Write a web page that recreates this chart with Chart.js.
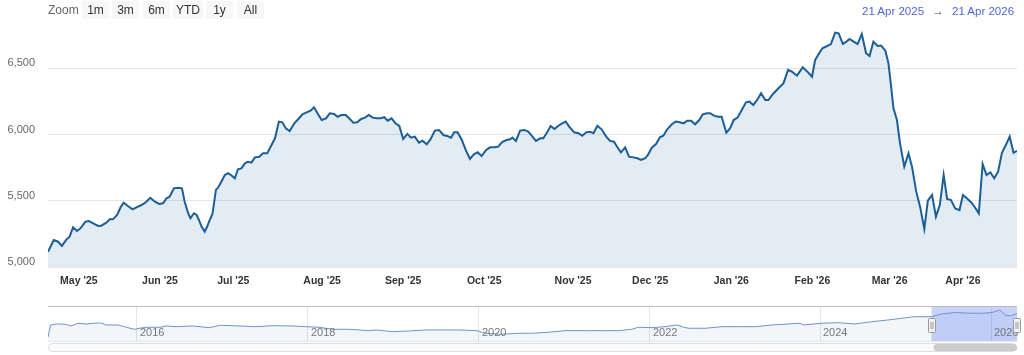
<!DOCTYPE html>
<html>
<head>
<meta charset="utf-8">
<script src="https://cdn.jsdelivr.net/npm/chart.js@4.4.1/dist/chart.umd.min.js"></script>
<style>
  html, body { margin:0; padding:0; background:#fff; }
  body { width:1024px; height:355px; position:relative; overflow:hidden; font-family:"Liberation Sans", Arial, sans-serif; }
  canvas { position:absolute; left:0; }
  .lbl { position:absolute; top:1px; height:18px; line-height:18px; font-size:12px; color:#666; }
  .btn { position:absolute; top:1px; height:18px; line-height:18px; font-size:12px; color:#333; background:#f7f7f7; border-radius:2px; text-align:center; z-index:2; }
  .date { position:absolute; top:2px; height:18px; line-height:18px; font-size:11.5px; color:#4d66d6; z-index:2; }
  .arrow { position:absolute; top:2px; height:18px; line-height:18px; font-size:12px; color:#555; z-index:2; }
</style>
</head>
<body>
<canvas id="main" width="1024" height="300" style="top:0"></canvas>
<canvas id="nav" width="1024" height="55" style="top:300px"></canvas>
<div id="ui"></div>
<script>
// ---- Data ----
// Main series: position on the trading-day axis (0 = 21 Apr 2025) and index level
const tradingDay = [
  0.0,1.5,2.6,3.6,4.8,5.6,6.5,7.5,8.4,9.7,10.6,11.7,13.0,13.8,15.1,16.0,16.8,17.9,18.8,19.6,
  20.7,21.9,22.9,24.2,25.2,26.5,27.7,28.8,29.8,30.7,31.5,32.6,33.7,34.7,35.4,36.3,36.9,37.8,38.5,39.1,
  39.8,40.6,41.2,41.9,42.6,43.5,44.1,44.9,45.8,46.7,47.7,48.4,49.2,50.1,51.0,51.8,52.7,53.6,54.7,55.7,
  56.8,57.9,58.8,59.8,60.7,61.6,62.6,63.8,64.8,65.9,67.0,68.0,68.9,69.8,70.9,72.0,73.0,74.1,75.0,76.0,
  77.1,78.0,79.1,80.1,81.1,82.1,83.1,84.1,85.1,86.2,87.1,88.0,89.0,90.0,91.0,92.0,93.1,94.0,95.0,96.1,
  97.0,98.1,99.1,100.2,101.3,102.4,103.4,104.4,105.2,106.1,107.2,108.3,109.3,110.3,111.3,112.3,113.5,114.5,115.8,116.6,
  117.7,118.8,119.7,120.3,121.2,122.3,123.4,124.4,125.5,126.4,127.5,128.3,129.3,130.2,131.2,132.2,133.2,134.1,135.0,136.3,
  137.4,138.4,139.4,140.4,141.3,142.3,143.4,144.6,145.6,146.6,147.5,148.4,149.5,150.5,151.6,152.7,153.6,154.7,155.4,156.4,
  157.5,158.5,159.4,160.4,161.6,162.6,163.7,164.6,165.6,166.6,167.6,168.7,169.6,170.7,171.5,172.5,173.5,174.5,175.7,176.7,
  177.6,178.6,179.7,180.8,181.7,182.7,183.8,184.7,185.8,186.6,187.8,189.2,190.5,191.7,192.7,194.0,195.5,196.7,197.9,198.7,
  199.6,200.6,201.8,202.8,203.9,204.8,205.9,206.8,207.6,208.7,209.7,210.8,211.9,212.8,213.8,214.9,215.8,216.9,217.7,218.3,
  219.0,219.9,220.7,221.8,222.9,223.8,224.9,225.9,227.0,227.9,229.0,230.0,231.0,232.0,232.9,233.9,235.0,236.1,237.0,238.0,
  239.1,240.0,241.1,242.1,243.1,244.1,245.1,246.1,247.1,248.1,249.1,250.1,251.0
];
const indexLevel = [
  5115,5204,5191,5159,5209,5229,5300,5272,5292,5342,5347,5330,5310,5312,5335,5360,5360,5393,5451,5486,
  5461,5436,5451,5468,5486,5523,5493,5476,5481,5519,5531,5594,5599,5594,5493,5406,5368,5406,5393,5355,
  5304,5267,5304,5355,5400,5582,5602,5644,5695,5708,5687,5670,5738,5745,5783,5795,5788,5828,5833,5859,
  5859,5921,5972,6098,6093,6048,6027,6085,6116,6153,6168,6181,6206,6161,6110,6123,6161,6156,6135,6148,
  6148,6123,6090,6093,6118,6128,6148,6128,6123,6123,6131,6105,6123,6085,6065,5967,6005,5977,5985,5939,
  5954,5927,5965,6030,6035,5997,5990,5977,6017,6017,5959,5878,5816,5851,5866,5838,5884,5904,5904,5909,
  5946,5959,5965,5977,5952,6030,6035,6022,5985,5952,5972,5972,6017,6065,6042,6067,6085,6098,6060,6017,
  6010,5992,6017,6022,6010,6067,6040,5985,5952,5946,5904,5866,5904,5833,5828,5821,5808,5821,5846,5901,
  5929,5980,5992,6040,6078,6098,6093,6085,6105,6105,6078,6110,6153,6161,6161,6143,6135,6135,6014,6048,
  6110,6128,6186,6244,6249,6224,6267,6312,6261,6261,6307,6350,6387,6488,6475,6445,6508,6475,6437,6563,
  6606,6652,6669,6684,6770,6765,6684,6702,6722,6702,6684,6760,6614,6594,6702,6669,6672,6634,6538,6387,
  6199,6110,5934,5758,5859,5758,5569,5455,5287,5501,5544,5380,5468,5695,5514,5506,5443,5430,5544,5519,
  5489,5455,5405,5778,5695,5715,5670,5720,5863,5921,5985,5863,5876
];
// Month ticks on the trading-day axis
const monthTickDays = [8,29,48,71,92,113,136,156,177,198,218,237];
const monthLabels = ["May '25","Jun '25","Jul '25","Aug '25","Sep '25","Oct '25","Nov '25","Dec '25","Jan '26","Feb '26","Mar '26","Apr '26"];
const yTickValues = [5000,5500,6000,6500];

// Navigator (full history): fractional year and level
const navYear = [
  2014.96,2014.99,2015.06,2015.16,2015.23,2015.31,2015.41,2015.49,2015.58,2015.64,2015.78,2015.88,2015.97,2016.03,2016.11,
  2016.27,2016.34,2016.46,2016.65,2016.85,2016.97,2017.20,2017.39,2017.59,2017.82,2017.98,2018.13,2018.29,2018.48,2018.72,
  2018.80,2018.99,2019.19,2019.38,2019.57,2019.77,2019.98,2020.08,2020.27,2020.47,2020.62,2020.82,2021.01,2021.24,2021.44,
  2021.64,2021.79,2021.87,2022.03,2022.18,2022.32,2022.40,2022.46,2022.65,2022.85,2023.04,2023.24,2023.43,2023.63,2023.76,
  2023.80,2024.01,2024.21,2024.40,2024.60,2024.79,2024.95,2025.10,2025.30,2025.42,2025.58,2025.72,2025.86,2026.00,2026.10,
  2026.17,2026.22,2026.30
];
const navLevel = [
  30,3065,3312,3238,2818,3485,3312,3485,3559,3065,3065,2497,2003,2250,2497,
  2497,2818,2645,2818,2398,2991,2818,2645,2892,2818,2645,2497,2003,2003,1657,
  1830,1410,1583,1830,1830,1830,1657,1015,768,1015,1015,1262,1657,1657,1657,
  1657,2003,2497,2398,2645,3065,2497,2250,2250,2645,2645,2645,3065,3312,3485,
  3065,3485,3633,3312,3880,4300,4720,5115,5115,5800,6150,6000,5960,6110,6770,
  5450,5290,5876
];
const navTickYears = [2016,2018,2020,2022,2024,2026];
const selectionStart = 2025.30;  // 21 Apr 2025
const selectionEnd = 2026.30;    // 21 Apr 2026

const rangeButtons = ['1m','3m','6m','YTD','1y','All'];
const dateFrom = '21 Apr 2025';
const dateTo = '21 Apr 2026';

// ---- UI (range selector) ----
const ui = document.getElementById('ui');
const btnLeft = [82,112,143,173,206,237];
const btnWidth = [27,27,27,30,27,27];
let z = document.createElement('div'); z.className='lbl'; z.style.left='48px'; z.textContent='Zoom'; ui.appendChild(z);
rangeButtons.forEach((t,i)=>{
  const b=document.createElement('div'); b.className='btn';
  b.style.left=btnLeft[i]+'px'; b.style.width=btnWidth[i]+'px'; b.textContent=t; ui.appendChild(b);
});
let d1=document.createElement('div'); d1.className='date'; d1.style.left='862px'; d1.textContent=dateFrom; ui.appendChild(d1);
let ar=document.createElement('div'); ar.className='arrow'; ar.style.left='932px'; ar.textContent='\u2192'; ui.appendChild(ar);
let d2=document.createElement('div'); d2.className='date'; d2.style.left='952px'; d2.textContent=dateTo; ui.appendChild(d2);

// ---- Charts ----
Chart.defaults.font.family = '"Liberation Sans", Arial, sans-serif';
Chart.defaults.animation = false;

new Chart(document.getElementById('main'), {
  type: 'line',
  data: {
    datasets: [{
      data: tradingDay.map((d,i)=>({x:d, y:indexLevel[i]})),
      borderColor: '#1c5e97',
      borderWidth: 2,
      backgroundColor: 'rgba(27,95,151,0.12)',
      fill: 'start',
      pointRadius: 0,
      tension: 0
    }]
  },
  options: {
    responsive: false,
    devicePixelRatio: 1,
    layout: { padding: { top: 28, right: 7, left: 0, bottom: 0 } },
    plugins: { legend: { display:false }, tooltip: { enabled:false } },
    scales: {
      x: {
        type: 'linear', min: 0, max: 251,
        afterFit: s => { s.height = 33; },
        afterBuildTicks: s => { s.ticks = monthTickDays.map(v=>({value:v})); },
        grid: { display:false, drawTicks:false },
        border: { display:false },
        ticks: {
          autoSkip:false, maxRotation:0, padding: 8,
          color:'#333', font:{ size:10.5, weight:'bold' },
          callback: (v,i) => monthLabels[i]
        }
      },
      y: {
        min: 5000, max: 6805,
        afterFit: s => { s.width = 48; },
        afterBuildTicks: s => { s.ticks = yTickValues.map(v=>({value:v})); },
        grid: { color:'#e6e6e6', drawTicks:false },
        border: { display:false },
        ticks: {
          padding: 13, labelOffset: -5, color:'#666', font:{ size:11 },
          callback: v => v.toLocaleString('en-US')
        }
      }
    }
  }
});

const navDecor = {
  id: 'navDecor',
  beforeDatasetsDraw(chart) {
    const {ctx, chartArea:{top,bottom}, scales:{x}} = chart;
    const x0 = x.getPixelForValue(selectionStart), x1 = x.getPixelForValue(selectionEnd);
    ctx.save();
    ctx.fillStyle = 'rgba(80,110,245,0.3)';
    ctx.fillRect(x0, top, x1 - x0, bottom - top);
    ctx.restore();
  },
  afterDatasetsDraw(chart) {
    // year labels of the navigator axis, drawn inside the plot just right of each grid line
    const {ctx, chartArea:{bottom}, scales:{x}} = chart;
    ctx.save();
    ctx.font = '11px "Liberation Sans", Arial, sans-serif';
    ctx.fillStyle = '#777';
    ctx.textAlign = 'left';
    ctx.textBaseline = 'middle';
    x.ticks.forEach(t => {
      ctx.fillText(String(t.value), Math.round(x.getPixelForValue(t.value)) + 3, bottom - 8);
    });
    ctx.restore();
  },
  afterDraw(chart) {
    const {ctx, chartArea:{top,bottom,left,right}, scales:{x}} = chart;
    const x0 = x.getPixelForValue(selectionStart), x1 = x.getPixelForValue(selectionEnd);
    ctx.save();
    ctx.strokeStyle = '#bbbbbb'; ctx.lineWidth = 1;
    ctx.beginPath(); ctx.moveTo(left, top + 0.5); ctx.lineTo(right, top + 0.5); ctx.stroke();
    ctx.strokeStyle = '#e6e6e6';
    ctx.beginPath(); ctx.moveTo(left, bottom + 0.5); ctx.lineTo(right, bottom + 0.5); ctx.stroke();
    const hy = Math.round((top + bottom) / 2) - 6;
    [x0, x1].forEach(hx => {
      const rx = Math.round(hx) - 3.5;
      ctx.fillStyle = '#f2f2f2'; ctx.strokeStyle = '#999999';
      ctx.beginPath(); ctx.roundRect(rx, hy + 0.5, 7, 14, 1); ctx.fill(); ctx.stroke();
      ctx.beginPath();
      ctx.moveTo(rx + 2.5, hy + 4); ctx.lineTo(rx + 2.5, hy + 11);
      ctx.moveTo(rx + 4.5, hy + 4); ctx.lineTo(rx + 4.5, hy + 11);
      ctx.stroke();
    });
    const sy = bottom + 2.5, sh = 8;
    ctx.fillStyle = '#fafafa'; ctx.strokeStyle = '#dddddd';
    ctx.beginPath(); ctx.roundRect(left + 0.5, sy, right - left - 1, sh, 4); ctx.fill(); ctx.stroke();
    ctx.fillStyle = '#cccccc';
    ctx.beginPath(); ctx.roundRect(x0 + 2, sy + 0.5, x1 - x0 - 2, sh - 1, 3.5); ctx.fill();
    ctx.restore();
  }
};

new Chart(document.getElementById('nav'), {
  type: 'line',
  data: {
    datasets: [{
      data: navYear.map((yv,i)=>({x:yv, y:navLevel[i]})),
      borderColor: '#6b95c8',
      borderWidth: 1,
      backgroundColor: 'rgba(27,95,151,0.06)',
      fill: 'start',
      pointRadius: 0,
      tension: 0
    }]
  },
  options: {
    responsive: false,
    devicePixelRatio: 1,
    layout: { padding: { top: 6, right: 7, left: 48, bottom: 14 } },
    plugins: { legend: { display:false }, tooltip: { enabled:false } },
    scales: {
      x: {
        type: 'linear', min: 2014.96, max: 2026.30,
        afterFit: s => { s.height = 0; },
        afterBuildTicks: s => { s.ticks = navTickYears.map(v=>({value:v})); },
        grid: { color:'#e6e6e6', drawTicks:false },
        border: { display:false },
        ticks: { display:false }
      },
      y: { display:false, min: -900, max: 7760 }
    }
  },
  plugins: [navDecor]
});
</script>
</body>
</html>
